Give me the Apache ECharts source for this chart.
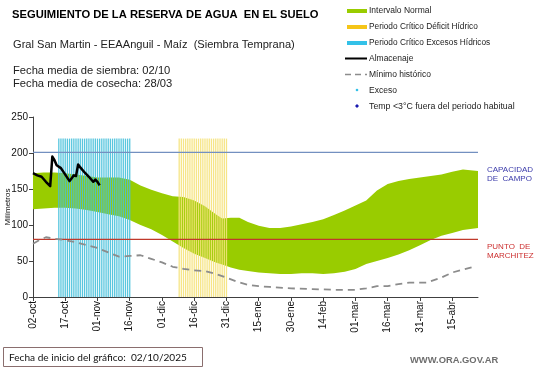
<!DOCTYPE html>
<html>
<head>
<meta charset="utf-8">
<script src="https://cdn.jsdelivr.net/npm/echarts@6/dist/echarts.min.js"></script>
<style>
html,body{margin:0;padding:0;background:#fff;}
#c{width:541px;height:368px;}
</style>
</head>
<body>
<div id="c"></div>
<script>
// ---- data (days counted from 02-oct) ----
var tickDays = [0,15,30,45,60,75,90,105,120,135,150,165,180,195];
var tickLabels = ['02-oct','17-oct','01-nov','16-nov','01-dic','16-dic','31-dic','15-ene','30-ene','14-feb','01-mar','16-mar','31-mar','15-abr'];

var bandDays  = [0,5,10,15,20,25,30,35,40,45,50,55,60,65,70,75,80,85,88,92,96,100,105,110,115,120,125,130,135,140,145,150,155,160,165,170,175,180,185,190,195,200,207];
var bandUpper = [172,173,173,172,170,168,166,166,166,163,155,149,144,140,139,134,126,115,109,110,110,104,99,96,96,98,101,104,108,114,120,127,134,148,157,161,164,166,168,170,174,177,175];
var bandLower = [122,123,124,124,123,121,118,115,112,107,100,94,86,77,68,60,54,48,45,41,38,36,34,33,32,32,33,33,32,33,35,39,46,50,54,59,65,72,79,85,89,93,96];

var minDays = [0,3,6,10,15,20,25,30,35,40,45,50,55,60,65,70,75,80,85,90,95,100,105,110,120,130,140,150,155,160,165,170,175,183,190,195,200,205];
var minVals = [74,79,83,81,79,76,72,68,62,56,57,58,53,48,42,39,37,36,32,27,21,17,15,14,12,11,10,10,12,15,15,18,20,20,27,34,38,42];

var almDays = [0,2,4,6,8,9,10,11,13,15,17,18,19,20,21,22,24,26,28,29,30,31];
var almVals = [172,169,167,160,154,195,190,183,179,170,161,165,169,168,184,180,173,167,160,163,160,155];

var excesoDias  = [12,13,14,15,16,17,18,19,20,21,22,23,24,25,26,27,28,29,30,31,32,33,34,35,36,37,38,39,40,41,42,43,44,45];
var deficitDias = [68,69,70,71,72,73,74,75,76,77,78,79,80,81,82,83,84,85,86,87,88,89,90];
var periodoAltura = 220;

var capacidadCampo = 201;
var puntoMarchitez = 80;
var xMax = 207;

// ---- build ----
function pairs(xs, ys){ return xs.map(function(x,i){ return [x, ys[i]]; }); }
var exData = excesoDias.map(function(d){ return [d, periodoAltura]; });
var defData = deficitDias.map(function(d){ return [d, periodoAltura]; });

function bandRender(params, api){
  if (params.dataIndex !== 0) return null;
  var pts = [];
  for (var i = 0; i < bandDays.length; i++) pts.push(api.coord([bandDays[i], bandUpper[i]]));
  for (var j = bandDays.length - 1; j >= 0; j--) pts.push(api.coord([bandDays[j], bandLower[j]]));
  return {type:'polygon', shape:{points:pts}, style:{fill:'#99CC00'}};
}
function stripeRender(color){
  return function(params, api){
    var top = api.coord([api.value(0), api.value(1)]);
    var base = api.coord([api.value(0), 0]);
    return {type:'rect', shape:{x:top[0]-0.65, y:top[1], width:1.3, height:base[1]-top[1]}, style:{fill:color}};
  };
}

var chart = echarts.init(document.getElementById('c'));
var F = 'Liberation Sans, Arial, sans-serif';
function txt(t, x, y, size, color, weight, family){
  return {type:'text', x:x, y:y, style:{text:t, fill:color||'#000', font:(weight||'normal')+' '+size+'px '+(family||F), verticalAlign:'middle', textAlign:'left'}};
}
var graphics = [
  txt('SEGUIMIENTO DE LA RESERVA DE AGUA  EN EL SUELO', 12, 15, 11.2, '#000', 'bold'),
  txt('Gral San Martin - EEAAnguil - Maíz  (Siembra Temprana)', 13, 45, 11.1, '#222'),
  txt('Fecha media de siembra: 02/10', 13, 71, 11.2, '#222'),
  txt('Fecha media de cosecha: 28/03', 13, 84, 11.2, '#222'),
  // legend
  {type:'rect', shape:{x:347,y:9,width:20,height:4}, style:{fill:'#99CC00'}},
  {type:'rect', shape:{x:347,y:25,width:20,height:4}, style:{fill:'#F5C518'}},
  {type:'rect', shape:{x:347,y:41,width:20,height:4}, style:{fill:'#33C1E8'}},
  {type:'line', shape:{x1:345,y1:58.5,x2:367,y2:58.5}, style:{stroke:'#000',lineWidth:2}},
  {type:'line', shape:{x1:345,y1:74.5,x2:367,y2:74.5}, style:{stroke:'#8C8C8C',lineWidth:1.5,lineDash:[6,4]}},
  {type:'circle', shape:{cx:357,cy:90,r:1.3}, style:{fill:'#33C1E8'}},
  {type:'polygon', shape:{points:[[357,104],[359,106],[357,108],[355,106]]}, style:{fill:'#1A1AB0'}},
  txt('Intervalo Normal', 369, 11, 8.5, '#222'),
  txt('Periodo Crítico Déficit Hídrico', 369, 27, 8.3, '#222'),
  txt('Periodo Crítico Excesos Hídricos', 369, 43, 8.3, '#222'),
  txt('Almacenaje', 369, 59, 8.5, '#222'),
  txt('Mínimo histórico', 369, 75, 8.5, '#222'),
  txt('Exceso', 369, 91, 8.5, '#222'),
  txt('Temp <3°C fuera del periodo habitual', 369, 107, 8.8, '#222'),
  // right labels
  txt('CAPACIDAD', 487, 170, 8, '#3A3AAA'),
  txt('DE  CAMPO', 487, 179, 8, '#3A3AAA'),
  txt('PUNTO  DE', 487, 247, 8, '#CC3030'),
  txt('MARCHITEZ', 487, 256, 8, '#CC3030'),
  // bottom
  {type:'rect', shape:{x:3.5,y:347.5,width:199,height:19}, style:{fill:'#fff', stroke:'#8A6E6E', lineWidth:1}},
  txt('Fecha de inicio del gráfico:  02/10/2025', 9, 358, 10.1, '#111', 'normal', 'Lato, sans-serif'),
  txt('WWW.ORA.GOV.AR', 410, 360, 9.4, '#6E6E6E', 'bold')
];

var option = {
  animation:false,
  backgroundColor:'#fff',
  grid:{left:33, top:117, width:445, height:180, containLabel:false, outerBoundsMode:'none'},
  xAxis:{type:'value', min:0, max:xMax, interval:15,
    splitLine:{show:false},
    axisLine:{lineStyle:{color:'#404040', width:1}},
    axisTick:{show:true, length:4, customValues:tickDays, lineStyle:{color:'#404040'}},
    axisLabel:{customValues:tickDays, rotate:90, fontSize:10, fontFamily:F, color:'#111', margin:4,
      formatter:function(v){ var i = tickDays.indexOf(v); return i>=0 ? tickLabels[i] : ''; }}
  },
  yAxis:{type:'value', min:0, max:250, interval:50,
    name:'Milímetros', nameLocation:'middle', nameRotate:90, nameGap:21, nameMoveOverlap:false,
    nameTextStyle:{fontSize:8, fontFamily:F, color:'#111'},
    splitLine:{show:false},
    axisLine:{show:true, lineStyle:{color:'#404040', width:1}},
    axisTick:{show:true, length:4, lineStyle:{color:'#404040'}},
    axisLabel:{fontSize:10, fontFamily:F, color:'#111', margin:5}
  },
  series:[
    {type:'custom', name:'Intervalo Normal', data:[[0,0]], renderItem:bandRender, z:1, silent:true},
    {type:'custom', name:'Periodo Crítico Excesos Hídricos', data:exData, renderItem:stripeRender('rgba(70,192,218,0.9)'), z:2},
    {type:'custom', name:'Periodo Crítico Déficit Hídrico', data:defData, renderItem:stripeRender('rgba(245,226,122,0.9)'), z:2},
    {type:'line', name:'cap', data:[[0,capacidadCampo],[xMax,capacidadCampo]], symbol:'none', lineStyle:{color:'#7390C0', width:1.2}, z:3},
    {type:'line', name:'pmp', data:[[0,puntoMarchitez],[xMax,puntoMarchitez]], symbol:'none', lineStyle:{color:'#C0392B', width:1.2}, z:3},
    {type:'line', name:'Mínimo histórico', data:pairs(minDays,minVals), symbol:'none', lineStyle:{color:'#8C8C8C', width:1.8, type:[7,5]}, z:4},
    {type:'line', name:'Almacenaje', data:pairs(almDays,almVals), symbol:'none', lineStyle:{color:'#000', width:2.5, join:'round'}, z:5}
  ],
  graphic:graphics
};
chart.setOption(option);
</script>
</body>
</html>
